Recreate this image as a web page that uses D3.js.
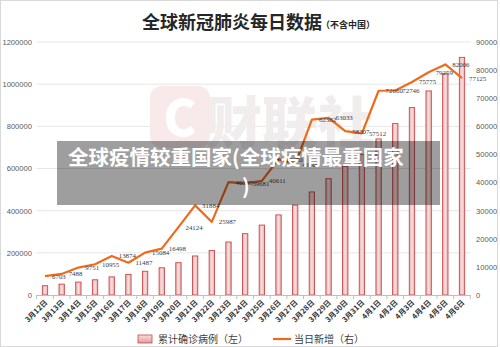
<!DOCTYPE html>
<html>
<head>
<meta charset="utf-8">
<script src="https://cdn.jsdelivr.net/npm/d3@7"></script>
<style>
  html, body { margin: 0; padding: 0; background: #fff; }
  svg { display: block; }
</style>
</head>
<body>
<svg id="chart" width="500" height="347"></svg>
<script>
// Dates on the category axis
const dates = [
  "3月12日","3月13日","3月14日","3月15日","3月16日","3月17日","3月18日","3月19日",
  "3月20日","3月21日","3月22日","3月23日","3月24日","3月25日","3月26日","3月27日",
  "3月28日","3月29日","3月30日","3月31日","4月1日","4月2日","4月3日","4月4日",
  "4月5日","4月6日"
];

// Cumulative confirmed cases (left axis, bars)
const cumulative = [
  44000, 51500, 61200, 72200, 86100, 97600, 112600, 129100,
  153300, 185100, 211100, 251300, 290900, 331600, 379900, 426400,
  488700, 551800, 610100, 667600, 740300, 813000, 888800, 968000,
  1050000, 1127200
];

// New cases per day (right axis, line)
const daily = [
  6703, 7488, 9751, 10955, 13874, 11487, 15084, 16498,
  24124, 31884, 25987, 40135, 39681, 40611, 48300, 46500,
  62382, 63033, 58307, 57512, 72660, 72746, 75775, 79259,
  82006, 77125
];

const leftTicks = [0, 200000, 400000, 600000, 800000, 1000000, 1200000];
const rightTicks = [0, 10000, 20000, 30000, 40000, 50000, 60000, 70000, 80000, 90000];

const titleText = "全球新冠肺炎每日数据";
const subTitleText = "（不含中国）";
const legendBar = "累计确诊病例（左）";
const legendLine = "当日新增（右）";
const captionLines = ["全球疫情较重国家(全球疫情最重国家", ")"];

const svg = d3.select("#chart");
const W = 500, H = 347;
const plot = { left: 36.66, right: 470.34, top: 42, bottom: 295 };

// outer frame
svg.append("rect")
  .attr("x", 0.5).attr("y", 0.5)
  .attr("width", W - 3).attr("height", H - 1)
  .attr("fill", "#fff").attr("stroke", "#d9d9d9");

// gradients for the bars
const defs = svg.append("defs");
const grad = defs.append("linearGradient")
  .attr("id", "barGrad").attr("x1", 0).attr("y1", 0).attr("x2", 0).attr("y2", 1);
grad.append("stop").attr("offset", "0%").attr("stop-color", "#f6dede");
grad.append("stop").attr("offset", "100%").attr("stop-color", "#e29c9c");
const gradH = defs.append("linearGradient")
  .attr("id", "barGradH").attr("x1", 0).attr("y1", 0).attr("x2", 1).attr("y2", 0);
gradH.append("stop").attr("offset", "0%").attr("stop-color", "#e7b0b0");
gradH.append("stop").attr("offset", "50%").attr("stop-color", "#f6dfdf");
gradH.append("stop").attr("offset", "100%").attr("stop-color", "#e7b0b0");

// scales
const x = d3.scaleBand()
  .domain(dates)
  .range([plot.left, plot.right])
  .paddingInner(0.68)
  .paddingOuter(0.34);
const step = x.step();
const bw = x.bandwidth();
const yL = d3.scaleLinear().domain([0, 1200000]).range([plot.bottom, plot.top]);
const yR = d3.scaleLinear().domain([0, 90000]).range([plot.bottom, plot.top]);

// title
svg.append("text")
  .attr("x", 142).attr("y", 29)
  .attr("font-family", "'Noto Sans CJK SC', sans-serif")
  .attr("font-size", 18).attr("font-weight", 700)
  .attr("fill", "#262626")
  .text(titleText);
svg.append("text")
  .attr("x", 321).attr("y", 28)
  .attr("font-family", "'Noto Sans CJK SC', sans-serif")
  .attr("font-size", 9).attr("font-weight", 700)
  .attr("fill", "#262626")
  .text(subTitleText);

// horizontal gridlines on the left-axis ticks
svg.append("g")
  .selectAll("line")
  .data(leftTicks.filter(t => t > 0))
  .join("line")
  .attr("x1", plot.left).attr("x2", plot.right)
  .attr("y1", d => yL(d)).attr("y2", d => yL(d))
  .attr("stroke", "#e6e6e6").attr("stroke-width", 1);

// watermark
const wm = svg.append("g");
wm.append("rect")
  .attr("x", 150).attr("y", 86).attr("width", 60).attr("height", 62).attr("rx", 12)
  .attr("fill", "#f8eaea");
wm.append("text")
  .attr("x", 180).attr("y", 136).attr("text-anchor", "middle")
  .attr("font-family", "'Noto Sans CJK SC', sans-serif")
  .attr("font-size", 50).attr("font-weight", 900)
  .attr("fill", "#ffffff")
  .text("C");
wm.append("text")
  .attr("x", 206).attr("y", 143)
  .attr("font-family", "'Noto Sans CJK SC', sans-serif")
  .attr("font-size", 56).attr("font-weight", 900)
  .attr("fill", "#f1eded")
  .text("财联社");

// left axis labels
const axL = svg.append("g")
  .attr("transform", "translate(33,0)")
  .call(d3.axisLeft(yL).tickValues(leftTicks).tickSize(0).tickPadding(1).tickFormat(d3.format("d")));
axL.select(".domain").remove();
axL.selectAll("text")
  .attr("font-family", "'Liberation Sans', Arial, sans-serif")
  .attr("font-size", 7.6).attr("fill", "#595959");

// right axis labels
const axR = svg.append("g")
  .attr("transform", "translate(476,0)")
  .call(d3.axisRight(yR).tickValues(rightTicks).tickSize(0).tickPadding(0).tickFormat(d3.format("d")));
axR.select(".domain").remove();
axR.selectAll("text")
  .attr("font-family", "'Liberation Sans', Arial, sans-serif")
  .attr("font-size", 7.6).attr("fill", "#595959");

// bars
svg.append("g")
  .selectAll("rect")
  .data(dates.map((d, i) => ({ d, v: cumulative[i] })))
  .join("rect")
  .attr("x", p => x(p.d))
  .attr("y", p => yL(p.v))
  .attr("width", bw)
  .attr("height", p => yL(0) - yL(p.v))
  .attr("fill", "url(#barGradH)")
  .attr("stroke", "#c9484a").attr("stroke-width", 0.9);

// x axis line and category boundary ticks
svg.append("line")
  .attr("x1", plot.left).attr("x2", plot.right)
  .attr("y1", plot.bottom + 0.5).attr("y2", plot.bottom + 0.5)
  .attr("stroke", "#bfbfbf");
const boundaries = dates.map(d => x(d) - step * 0.34)
  .concat([x(dates[dates.length - 1]) + bw + step * 0.34]);
svg.append("g")
  .selectAll("line")
  .data(boundaries)
  .join("line")
  .attr("x1", b => b).attr("x2", b => b)
  .attr("y1", plot.bottom).attr("y2", plot.bottom + 4)
  .attr("stroke", "#bfbfbf");

// x axis labels, rotated
const axB = svg.append("g")
  .attr("transform", `translate(0,${plot.bottom})`)
  .call(d3.axisBottom(x).tickSize(0).tickPadding(0));
axB.select(".domain").remove();
axB.selectAll("text")
  .attr("font-family", "'Noto Sans CJK SC', sans-serif")
  .attr("font-size", 7.4).attr("font-weight", 700)
  .attr("fill", "#333")
  .attr("text-anchor", "end")
  .attr("dy", null)
  .attr("transform", "translate(3,8) rotate(-45)");

// daily line
const pts = dates.map((d, i) => ({ d, v: daily[i] }));
svg.append("path")
  .datum(pts)
  .attr("fill", "none")
  .attr("stroke", "#ef6b1c")
  .attr("stroke-width", 2.2)
  .attr("stroke-linejoin", "round")
  .attr("d", d3.line().x(p => x(p.d) + bw / 2).y(p => yR(p.v)));

// value labels for the line, set to the right of each point
svg.append("g")
  .selectAll("text")
  .data(pts)
  .join("text")
  .attr("x", p => x(p.d) + bw / 2 + 7)
  .attr("y", p => yR(p.v))
  .attr("dy", "0.35em")
  .attr("font-family", "'Liberation Serif', 'Times New Roman', serif")
  .attr("font-size", 6.9)
  .attr("fill", "#404040")
  .text(p => p.v);

// legend
const lg = svg.append("g");
lg.append("rect")
  .attr("x", 138).attr("y", 335).attr("width", 14).attr("height", 8)
  .attr("fill", "url(#barGrad)").attr("stroke", "#c9484a").attr("stroke-width", 0.8);
lg.append("text")
  .attr("x", 158).attr("y", 343)
  .attr("font-family", "'Noto Sans CJK SC', sans-serif")
  .attr("font-size", 10).attr("fill", "#404040")
  .text(legendBar);
lg.append("line")
  .attr("x1", 273).attr("x2", 291).attr("y1", 339).attr("y2", 339)
  .attr("stroke", "#ef6b1c").attr("stroke-width", 2.2);
lg.append("text")
  .attr("x", 294).attr("y", 343)
  .attr("font-family", "'Noto Sans CJK SC', sans-serif")
  .attr("font-size", 10).attr("fill", "#404040")
  .text(legendLine);

// caption band over the chart
const cap = svg.append("g");
cap.append("rect")
  .attr("x", 57).attr("y", 141).attr("width", 383).attr("height", 64)
  .attr("fill", "rgba(0,0,0,0.38)");
cap.append("text")
  .attr("x", 68).attr("y", 165)
  .attr("font-family", "'Noto Sans CJK SC', sans-serif")
  .attr("font-size", 20.5).attr("font-weight", 700)
  .attr("fill", "#fff")
  .text(captionLines[0]);
cap.append("text")
  .attr("x", 242).attr("y", 194)
  .attr("font-family", "'Noto Sans CJK SC', sans-serif")
  .attr("font-size", 20.5).attr("font-weight", 700)
  .attr("fill", "#fff")
  .text(captionLines[1]);
</script>
</body>
</html>
